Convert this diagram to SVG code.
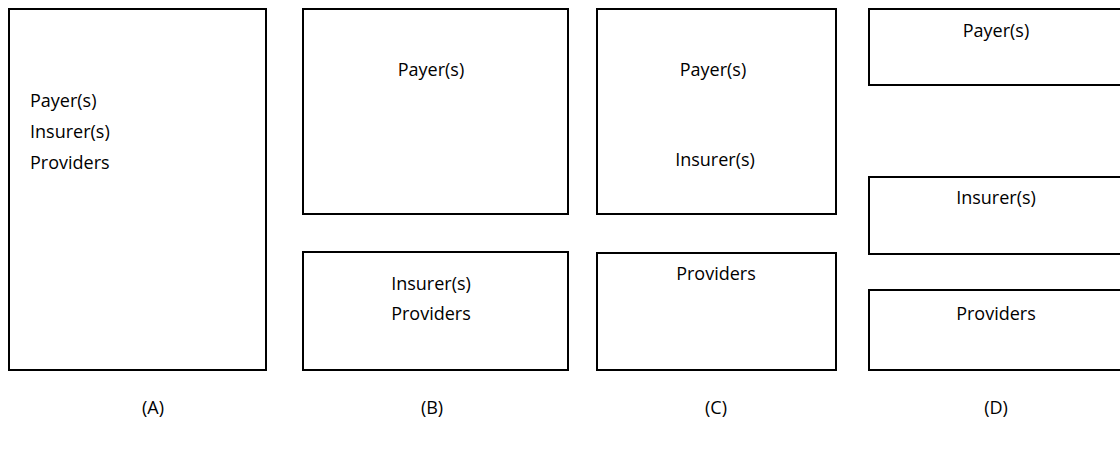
<svg xmlns="http://www.w3.org/2000/svg" width="1120" height="449" viewBox="0 0 1120 449">
<style>
.box{fill:#fff;stroke:#000;stroke-width:2}
text{font-family:"Open Sans","Noto Sans",sans-serif;font-size:18px;fill:#000}
.c{text-anchor:middle}
</style>
<rect width="1120" height="449" fill="#fff"/>
<g id="A">
<rect class="box" x="9" y="9" width="257" height="361"/>
<text x="30" y="107">Payer(s)</text>
<text x="30" y="138">Insurer(s)</text>
<text x="30" y="169">Providers</text>
</g>
<g id="B-top">
<rect class="box" x="303" y="9" width="265" height="205"/>
<text class="c" x="431" y="76">Payer(s)</text>
</g>
<g id="B-bottom">
<rect class="box" x="303" y="252" width="265" height="118"/>
<text class="c" x="431" y="290">Insurer(s)</text>
<text class="c" x="431" y="320">Providers</text>
</g>
<g id="C-top">
<rect class="box" x="597" y="9" width="239" height="205"/>
<text class="c" x="713" y="76">Payer(s)</text>
<text class="c" x="715" y="166">Insurer(s)</text>
</g>
<g id="C-bottom">
<rect class="box" x="597" y="253" width="239" height="117"/>
<text class="c" x="716" y="280">Providers</text>
</g>
<g id="D-payer">
<rect class="box" x="869" y="9" width="260" height="76"/>
<text class="c" x="996" y="37">Payer(s)</text>
</g>
<g id="D-insurer">
<rect class="box" x="869" y="177" width="260" height="77"/>
<text class="c" x="996" y="204">Insurer(s)</text>
</g>
<g id="D-providers">
<rect class="box" x="869" y="290" width="260" height="80"/>
<text class="c" x="996" y="320">Providers</text>
</g>
<g id="labels">
<text class="c" x="153" y="414">(A)</text>
<text class="c" x="432" y="414">(B)</text>
<text class="c" x="716" y="414">(C)</text>
<text class="c" x="996" y="414">(D)</text>
</g>
<g id="connectors"></g>
</svg>
